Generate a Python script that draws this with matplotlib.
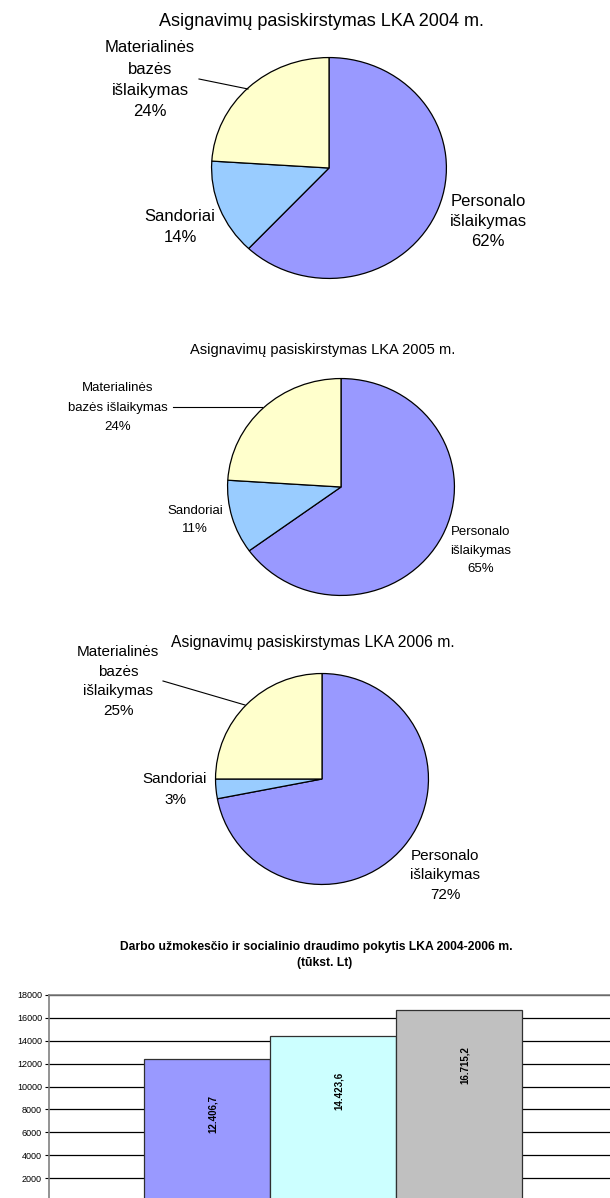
import matplotlib
matplotlib.use("Agg")
import matplotlib.pyplot as plt
from matplotlib.lines import Line2D

plt.rcParams['font.family'] = ['Liberation Sans', 'DejaVu Sans']

# --- data ---
categories = ["Personalo išlaikymas", "Sandoriai", "Materialinės bazės išlaikymas"]
shares_2004 = [62, 14, 24]
shares_2005 = [65, 11, 24]
shares_2006 = [72, 3, 25]
pie_colors = ['#9999FF', '#99CCFF', '#FFFFCC']

bar_years = ["2004", "2005", "2006"]
salary = [12406.7, 14423.6, 16715.2]
bar_colors = ['#9999FF', '#CCFFFF', '#C0C0C0']
y_ticks = list(range(0, 18001, 2000))

W, H = 610, 1198
fig = plt.figure(figsize=(W / 100, H / 100), dpi=100)


def fx(x):
    return x / W


def fy(y):
    return 1 - y / H


def text_block(lines, x, y0, step, size, **kw):
    for i, line in enumerate(lines):
        fig.text(fx(x), fy(y0 + i * step), line, ha='center', va='center',
                 fontsize=size, **kw)


def pie(shares, title, cx, cy, rx, ry, size, title_size, title_xy, labels,
        leader):
    ax = fig.add_axes([fx(cx - rx), fy(cy + ry), 2 * rx / W, 2 * ry / H])
    ax.pie(shares, colors=pie_colors, startangle=90, counterclock=False,
           radius=1, wedgeprops=dict(edgecolor='black', linewidth=0.9))
    ax.set_aspect('auto')
    ax.set_xlim(-1.005, 1.005)
    ax.set_ylim(-1.005, 1.005)
    ax.axis('off')
    fig.text(fx(title_xy[0]), fy(title_xy[1]), title, ha='center',
             va='center', fontsize=title_size)
    for (lines, x, y0, step), pct in zip(labels, shares):
        text_block(lines + [f"{pct}%"], x, y0, step, size)
    (x0, y0), (x1, y1) = leader
    fig.add_artist(Line2D([fx(x0), fx(x1)], [fy(y0), fy(y1)],
                          color='black', linewidth=0.8))


pie(shares_2004, "Asignavimų pasiskirstymas LKA 2004 m.",
    329, 168, 118, 111, 12, 13, (321, 22),
    [(["Personalo", "išlaikymas"], 488, 201, 20.5),
     (["Sandoriai"], 180, 217, 20),
     (["Materialinės", "bazės", "išlaikymas"], 150, 48, 21)],
    ((199, 79), (248, 89)))

pie(shares_2005, "Asignavimų pasiskirstymas LKA 2005 m.",
    341, 487, 114, 109, 9.5, 10.5, (323, 350),
    [(["Personalo", "išlaikymas"], 481, 532, 18.5),
     (["Sandoriai"], 195, 511, 18.5),
     (["Materialinės", "bazės išlaikymas"], 118, 388, 19.5)],
    ((173, 407), (262, 407)))

pie(shares_2006, "Asignavimų pasiskirstymas LKA 2006 m.",
    322, 779, 107, 106, 11, 11.3, (313, 642),
    [(["Personalo", "išlaikymas"], 445, 856, 19.5),
     (["Sandoriai"], 175, 779, 21),
     (["Materialinės", "bazės", "išlaikymas"], 118, 652, 19.7)],
    ((163, 681), (245, 705)))

# --- bar chart ---
fig.text(fx(316), fy(947),
         "Darbo užmokesčio ir socialinio draudimo pokytis LKA 2004-2006 m.",
         ha='center', va='center', fontsize=8.7, fontweight='bold')
fig.text(fx(325), fy(963), "(tūkst. Lt)", ha='center', va='center',
         fontsize=8.7, fontweight='bold')

left, right, top, bottom = 49, 610, 995, 1201
ax = fig.add_axes([fx(left), fy(bottom), (right - left) / W, (bottom - top) / H])
x = list(range(len(salary)))
ax.bar(x, salary, width=1.0, color=bar_colors, edgecolor='#303030',
       linewidth=0.9, zorder=3)
ax.set_xlim(-1.254, 2.5 + (right - 522) / 126)
ax.set_ylim(0, 18000)
ax.set_yticks(y_ticks)
ax.set_yticklabels([str(t) for t in y_ticks])
ax.set_xticks([])
ax.yaxis.grid(True, color='black', linewidth=0.9, zorder=0)
ax.set_axisbelow(True)
ax.tick_params(axis='y', length=3, width=0.8, labelsize=6.5, pad=2)
for side in ['right', 'bottom']:
    ax.spines[side].set_visible(False)
ax.spines['top'].set_color('#808080')
ax.spines['left'].set_color('#808080')
ax.spines['top'].set_linewidth(1.2)
ax.spines['left'].set_linewidth(1.2)

for i, v in enumerate(salary):
    lbl = f"{v:,.1f}".replace(',', 'X').replace('.', ',').replace('X', '.')
    ax.annotate(lbl, xy=(i, v), xytext=(6, -55), textcoords='offset pixels',
                rotation=90, ha='center', va='center', fontsize=7,
                fontweight='bold', zorder=4)

fig.savefig("out.png", dpi=100)
